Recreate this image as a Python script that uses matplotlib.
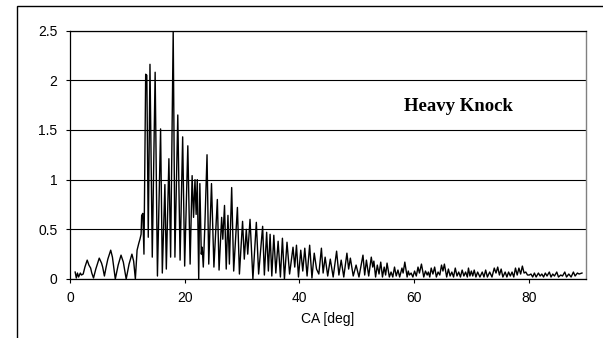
import numpy as np
import matplotlib.pyplot as plt
from matplotlib.patches import Rectangle

# crank angle [deg] and signal amplitude (peaks / troughs)
pre_x = [0.9, 1.1, 1.3, 1.5, 1.8, 2.0, 2.3, 2.6, 3.0, 3.3, 3.6, 3.8, 4.1, 4.5,
         5.1, 5.5, 5.7, 6.0, 6.3, 6.6, 7.1, 7.4, 7.9, 8.4, 8.9, 9.3, 9.8, 10.3,
         10.8, 11.1, 11.4, 11.7, 12.0, 12.2, 12.4, 12.5, 12.7, 12.9]
pre_y = [0.07, 0.01, 0.06, 0.02, 0.06, 0.04, 0.05, 0.12, 0.19, 0.14, 0.11, 0.06, 0.01, 0.10,
         0.21, 0.16, 0.12, 0.03, 0.12, 0.20, 0.29, 0.22, 0.00, 0.14, 0.24, 0.17, 0.00, 0.15,
         0.25, 0.18, 0.00, 0.29, 0.36, 0.40, 0.45, 0.64, 0.66, 0.25]

knock_x = [13.2, 13.4, 13.65, 13.95, 14.35, 14.85, 15.25, 15.8, 16.1, 16.55, 16.8,
           17.25, 17.55, 18.0, 18.3, 18.8, 19.2, 19.65, 20.0, 20.55, 20.95, 21.3,
           21.55, 21.8, 22.0, 22.2, 22.45, 22.65, 22.9, 23.05, 23.25, 23.5, 23.9]
knock_y = [2.06, 2.05, 0.42, 2.16, 0.22, 2.08, 0.03, 1.51, 0.06, 0.95, 0.10,
           1.21, 0.22, 2.50, 0.22, 1.65, 0.19, 1.43, 0.13, 1.34, 0.15, 1.04,
           0.62, 1.00, 0.65, 1.00, 0.00, 0.96, 0.25, 0.32, 0.12, 0.50, 1.25]

decay_x = [24.2, 24.68, 25.1, 25.7, 26.0, 26.45, 26.65, 26.95, 27.25, 27.55, 27.8,
           28.2, 28.55, 29.2, 29.55, 30.1, 30.4, 30.75, 31.0, 31.4, 31.9, 32.5,
           32.9, 33.6, 33.9, 34.3, 34.6, 34.9, 35.2, 35.55, 35.9, 36.3, 36.7,
           37.05, 37.4, 37.85, 38.3, 38.9, 39.2, 39.5, 39.85, 40.25, 40.6, 40.95,
           41.35, 41.8, 42.2, 42.6, 43.0, 43.4, 43.85, 44.15, 44.5, 44.95, 45.4,
           45.9, 46.5, 46.9, 47.3, 47.75, 48.3, 48.6, 48.9, 49.4, 49.9, 50.4,
           51.1, 51.4]
decay_y = [0.15, 0.96, 0.12, 0.80, 0.09, 0.62, 0.40, 0.74, 0.10, 0.64, 0.15,
           0.92, 0.08, 0.72, 0.05, 0.58, 0.20, 0.50, 0.25, 0.60, 0.00, 0.57,
           0.05, 0.53, 0.04, 0.47, 0.08, 0.45, 0.03, 0.44, 0.06, 0.38, 0.02,
           0.41, 0.00, 0.37, 0.05, 0.32, 0.12, 0.34, 0.02, 0.29, 0.08, 0.31,
           0.03, 0.34, 0.01, 0.26, 0.10, 0.05, 0.31, 0.06, 0.22, 0.03, 0.20,
           0.02, 0.28, 0.04, 0.19, 0.02, 0.26, 0.10, 0.21, 0.03, 0.14, 0.02,
           0.24, 0.04]

tail_x = [51.7, 52.1, 52.55, 52.8, 53.0, 53.3, 53.6, 53.9, 54.2, 54.5, 54.8, 55.05,
          55.3, 55.7, 56.0, 56.3, 56.6, 56.9, 57.2, 57.5, 57.9, 58.1, 58.4, 58.8,
          59.0, 59.2, 59.5, 59.8, 60.1, 60.4, 60.7, 60.95, 61.3, 61.7, 62.0, 62.3,
          62.5, 62.75, 63.0, 63.3, 63.6, 63.9, 64.2, 64.5, 64.8, 65.05, 65.3, 65.7,
          66.0, 66.3, 66.6, 66.9, 67.2, 67.5, 67.8, 68.1, 68.4, 68.7, 69.0, 69.3,
          69.5, 69.75, 70.0, 70.25, 70.5, 70.8, 71.1, 71.5, 71.9, 72.2, 72.5, 72.8,
          73.2, 73.6, 74.0, 74.3, 74.6, 74.9, 75.2, 75.5, 75.9, 76.2, 76.5, 76.8,
          77.1, 77.4, 77.7, 78.0, 78.3, 78.6, 78.9, 79.2, 79.5, 79.8, 80.1, 80.4,
          80.7, 81.0, 81.3, 81.7, 82.0, 82.3, 82.6, 82.9, 83.2, 83.6, 83.9, 84.2,
          84.5, 84.9, 85.2, 85.6, 85.9, 86.3, 86.6, 87.0, 87.4, 87.8, 88.1, 88.5,
          88.8, 89.3]
tail_y = [0.19, 0.03, 0.22, 0.12, 0.18, 0.02, 0.14, 0.05, 0.17, 0.02, 0.12, 0.04,
          0.16, 0.02, 0.07, 0.02, 0.12, 0.03, 0.09, 0.02, 0.11, 0.06, 0.17, 0.02,
          0.08, 0.04, 0.06, 0.02, 0.08, 0.03, 0.12, 0.06, 0.15, 0.02, 0.08, 0.04,
          0.07, 0.02, 0.11, 0.05, 0.12, 0.02, 0.07, 0.04, 0.14, 0.08, 0.15, 0.02,
          0.10, 0.03, 0.07, 0.02, 0.11, 0.03, 0.07, 0.02, 0.09, 0.03, 0.07, 0.02,
          0.11, 0.03, 0.08, 0.03, 0.09, 0.02, 0.07, 0.02, 0.07, 0.02, 0.09, 0.02,
          0.07, 0.02, 0.11, 0.06, 0.12, 0.04, 0.10, 0.02, 0.07, 0.02, 0.07, 0.03,
          0.07, 0.02, 0.11, 0.04, 0.11, 0.05, 0.13, 0.06, 0.07, 0.04, 0.04, 0.05,
          0.02, 0.06, 0.02, 0.06, 0.03, 0.05, 0.02, 0.06, 0.03, 0.07, 0.02, 0.05,
          0.03, 0.07, 0.02, 0.04, 0.03, 0.07, 0.02, 0.05, 0.02, 0.07, 0.03, 0.06,
          0.05, 0.06]

ca = np.array(pre_x + knock_x + decay_x + tail_x)
amp = np.array(pre_y + knock_y + decay_y + tail_y)

y_ticks = [0, 0.5, 1, 1.5, 2, 2.5]
y_tick_labels = ['0', '0.5', '1', '1.5', '2', '2.5']
x_ticks = [0, 20, 40, 60, 80]

plt.rcParams['font.family'] = ['Liberation Sans', 'DejaVu Sans']

fig = plt.figure(figsize=(6.03, 3.38), dpi=100)
ax = fig.add_axes([70 / 603, 1 - 279 / 338, 516 / 603, 248.5 / 338])

# outer frame around the chart
fig.patches.append(Rectangle((17 / 603, -0.05), 1.0, 1 - 6 / 338 + 0.05,
                             transform=fig.transFigure, fill=False,
                             edgecolor='black', linewidth=1.0))

ax.plot(ca, amp, color='black', linewidth=1.0)

ax.set_xlim(0, 90)
ax.set_ylim(0, 2.5)
ax.set_xticks(x_ticks)
ax.set_yticks(y_ticks)
ax.set_yticklabels(y_tick_labels)
ax.yaxis.grid(True, color='black', linewidth=0.8)
ax.set_axisbelow(True)

ax.tick_params(axis='both', direction='out', length=3, width=0.8,
               labelsize=10, color='black')
ax.tick_params(axis='y', pad=6)
ax.tick_params(axis='x', pad=6)

for side in ['left', 'bottom', 'top']:
    ax.spines[side].set_color('black')
    ax.spines[side].set_linewidth(0.9)
ax.spines['right'].set_color('#808080')
ax.spines['right'].set_linewidth(1.0)

ax.set_xlabel('CA [deg]', fontsize=10, labelpad=5)

ax.text(58.3, 1.74, 'Heavy Knock', fontsize=13.5, fontweight='bold',
        family=['Liberation Serif', 'DejaVu Serif'], ha='left', va='center')

fig.savefig('out.png', dpi=100)
